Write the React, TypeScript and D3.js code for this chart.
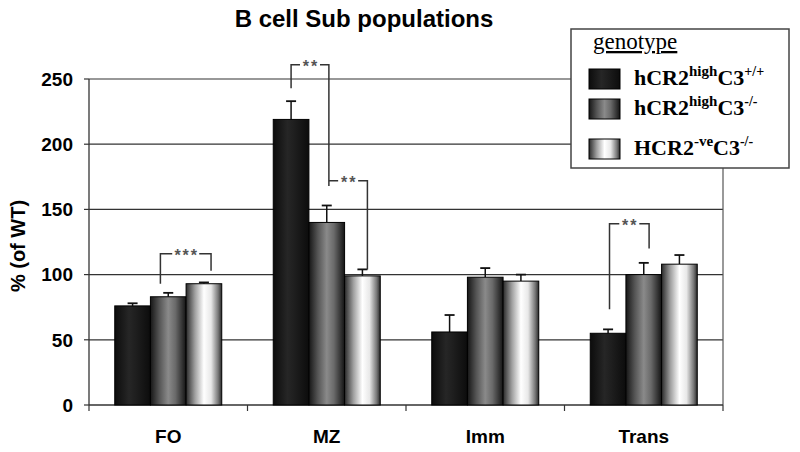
import React from "react";
import * as d3 from "d3";

const categories = ["FO", "MZ", "Imm", "Trans"];
const seriesNames = ["s1", "s2", "s3"];
const values1 = [76, 219, 56, 55];
const err1 = [2, 14, 13, 3];
const values2 = [83, 140, 98, 100];
const err2 = [3, 13, 7, 9];
const values3 = [93, 99, 95, 108];
const err3 = [1, 5, 5, 7];
const yTicks = [0, 50, 100, 150, 200, 250];

// significance brackets: category, from/to (series index, fractional), top value, leg end values, label
const brackets = [
  { cat: "FO", from: 0.78, to: 2.2, top: 116, leftEnd: 93, rightEnd: 103, label: "***" },
  { cat: "MZ", from: 0, to: 1.06, top: 261, leftEnd: 243, rightEnd: 168, label: "**" },
  { cat: "MZ", from: 1.06, to: 2.14, top: 172, leftEnd: 172, rightEnd: 104, label: "**" },
  { cat: "Trans", from: 0.04, to: 1.15, top: 139, leftEnd: 73.5, rightEnd: 120, label: "**" },
];

const W = 800;
const H = 452;
const left = 89;
const right = 723;
const top = 79;
const bottom = 405;

export default function App() {
  const x = d3.scaleBand<string>().domain(categories).range([left, right]).paddingInner(0).paddingOuter(0);
  const y = d3.scaleLinear().domain([0, 250]).range([bottom, top]);
  const groupW = 107;
  const barW = groupW / 3;
  const xs = d3.scaleBand<string>().domain(seriesNames).range([0, groupW]);
  const vals = [values1, values2, values3];
  const errs = [err1, err2, err3];
  const grads = ["g1", "g2", "g3"];
  const bx = (cat: string) => (x(cat) as number) + (x.bandwidth() - groupW) / 2;
  const sx = (cat: string, idx: number) => bx(cat) + idx * barW + barW / 2;

  const sans = "'Liberation Sans', Arial, sans-serif";
  const serif = "'Liberation Serif', 'Times New Roman', serif";

  return (
    <svg width={W} height={H} style={{ position: "absolute", left: 0, top: 0 }}>
      <defs>
        <linearGradient id="g1" x1="0" x2="1" y1="0" y2="0">
          <stop offset="0" stopColor="#0c0c0c" />
          <stop offset="0.4" stopColor="#262626" />
          <stop offset="0.6" stopColor="#1e1e1e" />
          <stop offset="1" stopColor="#0c0c0c" />
        </linearGradient>
        <linearGradient id="g2" x1="0" x2="1" y1="0" y2="0">
          <stop offset="0" stopColor="#161616" />
          <stop offset="0.25" stopColor="#555" />
          <stop offset="0.5" stopColor="#8a8a8a" />
          <stop offset="0.7" stopColor="#6a6a6a" />
          <stop offset="1" stopColor="#141414" />
        </linearGradient>
        <linearGradient id="g3" x1="0" x2="1" y1="0" y2="0">
          <stop offset="0" stopColor="#2a2a2a" />
          <stop offset="0.25" stopColor="#a0a0a0" />
          <stop offset="0.5" stopColor="#ffffff" />
          <stop offset="0.7" stopColor="#e8e8e8" />
          <stop offset="0.9" stopColor="#777" />
          <stop offset="1" stopColor="#2a2a2a" />
        </linearGradient>
      </defs>
      <rect width={W} height={H} fill="#fff" />
      <text x={364} y={27} textAnchor="middle" fontFamily={sans} fontWeight="bold" fontSize={24}>
        B cell Sub populations
      </text>

      {/* gridlines */}
      {yTicks.filter((t) => t > 0).map((t) => (
        <line key={t} x1={left} x2={right} y1={y(t)} y2={y(t)} stroke="#333" strokeWidth={1.2} />
      ))}
      {/* right border */}
      <line x1={right} x2={right} y1={top} y2={bottom} stroke="#555" strokeWidth={1.2} />

      {/* y axis */}
      <line x1={left} x2={left} y1={top} y2={bottom} stroke="#333" strokeWidth={1.3} />
      {yTicks.map((t) => (
        <g key={t}>
          <line x1={left - 5} x2={left} y1={y(t)} y2={y(t)} stroke="#333" strokeWidth={1.2} />
          <text x={73} y={y(t)} dy="0.36em" textAnchor="end" fontFamily={sans} fontWeight="bold" fontSize={19}>
            {t}
          </text>
        </g>
      ))}
      <text
        transform={`translate(25,${246}) rotate(-90)`}
        textAnchor="middle"
        fontFamily={sans}
        fontWeight="bold"
        fontSize={20}
      >
        % (of WT)
      </text>

      {/* x axis */}
      <line x1={left} x2={right} y1={bottom} y2={bottom} stroke="#333" strokeWidth={1.3} />
      {[...categories.map((c) => x(c) as number), right].map((px, i) => (
        <line key={i} x1={px} x2={px} y1={bottom} y2={bottom + 6} stroke="#333" strokeWidth={1.2} />
      ))}
      {categories.map((c) => (
        <text
          key={c}
          x={(x(c) as number) + x.bandwidth() / 2}
          y={443}
          textAnchor="middle"
          fontFamily={sans}
          fontWeight="bold"
          fontSize={19}
        >
          {c}
        </text>
      ))}

      {/* bars */}
      {categories.map((c, ci) =>
        seriesNames.map((s, si) => {
          const v = vals[si][ci];
          const e = errs[si][ci];
          const x0 = bx(c) + (xs(s) as number);
          const cx = x0 + barW / 2;
          return (
            <g key={c + s}>
              <line x1={cx} x2={cx} y1={y(v)} y2={y(v + e)} stroke="#111" strokeWidth={1.5} />
              <line x1={cx - 5} x2={cx + 5} y1={y(v + e)} y2={y(v + e)} stroke="#111" strokeWidth={1.8} />
              <rect
                x={x0}
                y={y(v)}
                width={barW}
                height={y(0) - y(v)}
                fill={`url(#${grads[si]})`}
                stroke="#000"
                strokeWidth={1}
              />
            </g>
          );
        })
      )}

      {/* brackets */}
      {brackets.map((b, i) => {
        const xa = sx(b.cat, b.from);
        const xb = sx(b.cat, b.to);
        const yt = y(b.top);
        const mid = (xa + xb) / 2;
        const tw = b.label.length * 7 + 6;
        return (
          <g key={i}>
            <path
              d={`M${xa},${y(b.leftEnd)}V${yt}H${xb}V${y(b.rightEnd)}`}
              fill="none"
              stroke="#333"
              strokeWidth={1.5}
            />
            <rect x={mid - tw / 2} y={yt - 4} width={tw} height={8} fill="#fff" />
            <text
              x={mid + 1}
              y={yt + 7}
              textAnchor="middle"
              fontFamily={sans}
              fontSize={16}
              fontWeight="bold"
              fill="#555"
              letterSpacing={2}
            >
              {b.label}
            </text>
          </g>
        );
      })}

      {/* legend */}
      <rect x={571} y={29} width={218} height={139} fill="#fff" stroke="#444" strokeWidth={1.5} />
      <text x={593} y={49} fontFamily={serif} fontSize={23} textDecoration="underline">
        genotype
      </text>
      {[
        { main: "hCR2", sup1: "high", mid: "C3", sup2: "+/+", y: 69 },
        { main: "hCR2", sup1: "high", mid: "C3", sup2: "-/-", y: 99 },
        { main: "HCR2", sup1: "-ve", mid: "C3", sup2: "-/-", y: 139 },
      ].map((l, i) => (
        <g key={i}>
          <rect x={589} y={l.y} width={31} height={20} fill={`url(#${grads[i]})`} stroke="#000" strokeWidth={1} />
          <text x={634} y={l.y + 16} fontFamily={serif} fontWeight="bold" fontSize={22}>
            {l.main}
            <tspan fontSize={15} dy={-9}>{l.sup1}</tspan>
            <tspan fontSize={22} dy={9}>{l.mid}</tspan>
            <tspan fontSize={14} dy={-9}>{l.sup2}</tspan>
          </text>
        </g>
      ))}
    </svg>
  );
}
